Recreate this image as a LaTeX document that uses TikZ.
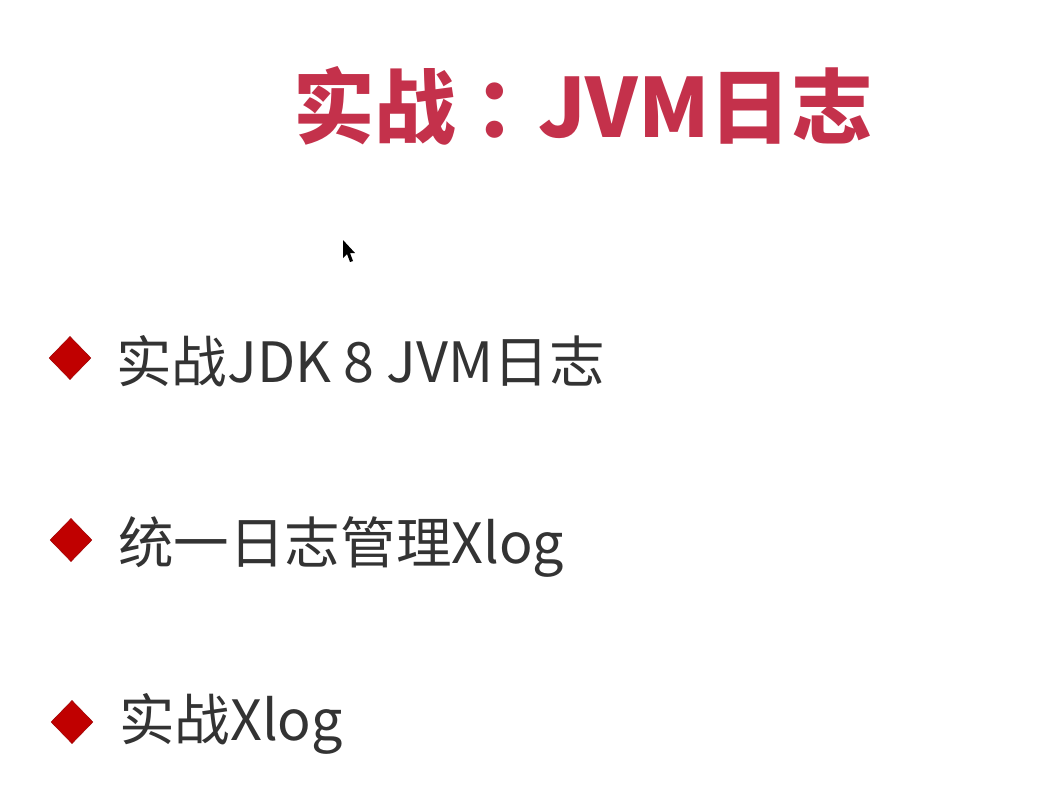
\documentclass[tikz,border=0pt]{standalone}
\usepackage{fontspec}
\newfontfamily\cjk{Noto Sans CJK SC}
\usetikzlibrary{shapes.geometric,positioning}
\definecolor{titlered}{HTML}{C4314B}
\definecolor{bulletred}{HTML}{C00000}
\definecolor{bodygray}{HTML}{333333}
\begin{document}
\begin{tikzpicture}[x=0.025cm,y=-0.025cm,
    bullet/.style={diamond, fill=bulletred, draw=bulletred!80!black, line width=0.3pt,
        inner sep=0pt, minimum width=1.05cm, minimum height=1.08cm},
    item/.style={anchor=base west, inner sep=0pt, text=bodygray,
        font=\cjk\fontsize{39.5}{47}\selectfont}]
        \useasboundingbox[fill=white] (0,0) rectangle (1041,810);

        \node[anchor=base west, inner sep=0pt, text=titlered,
            font=\cjk\bfseries\fontsize{58}{68}\selectfont] (title) at (293,137)
            {实战\hspace{0.22em}：\hspace{-0.22em}JVM日志};

        % mouse pointer
        \fill[black] (343,240) -- (343,258) -- (347,254) -- (350,262) -- (353,261)
            -- (350,253) -- (355,253) -- cycle;

        \node[bullet] (b1) at (70,358) {};
        \node[bullet] (b2) at (71,540) {};
        \node[bullet] (b3) at (72,722) {};

        \node[item] (t1) at (116,382) {实战JDK 8 JVM日志};
        \node[item] (t2) at (118,563) {统一日志管理Xlog};
        \node[item] (t3) at (119,740) {实战Xlog};

    \end{tikzpicture}
\end{document}
